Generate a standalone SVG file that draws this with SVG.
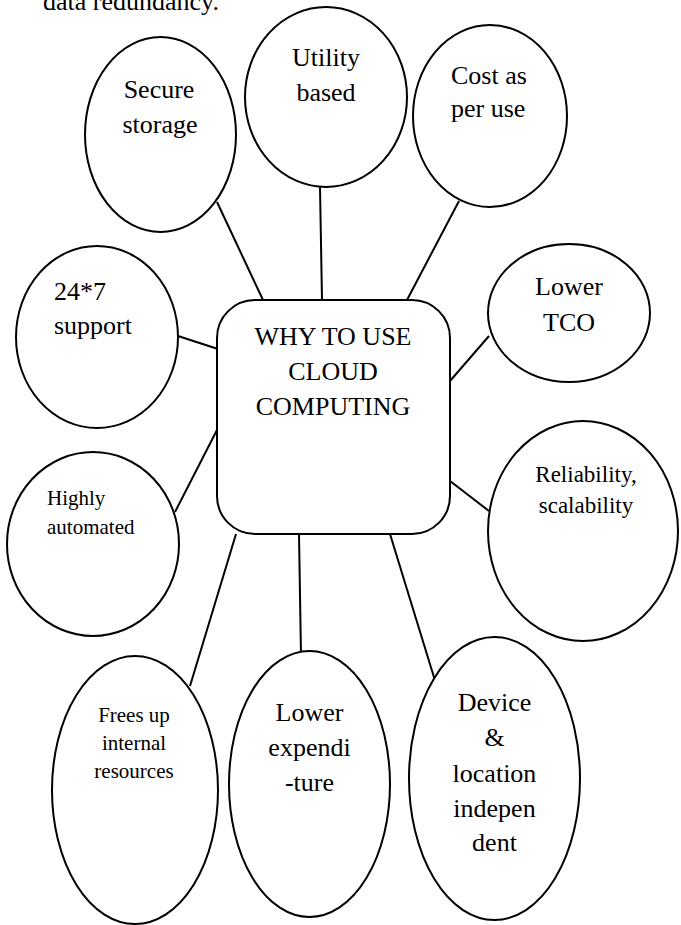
<svg xmlns="http://www.w3.org/2000/svg" width="681" height="925" viewBox="0 0 681 925">
<style>
.n{fill:#fff;stroke:#000;stroke-width:2}
.c line{stroke:#000;stroke-width:2}
text{font-family:"Liberation Serif","Times New Roman",serif;fill:#000}
.b{font-size:26px}
.s{font-size:21px}
.m{text-anchor:middle}
</style>
<rect width="681" height="925" fill="#fff"/>
<text class="b" x="43" y="10">data redundancy.</text>
<g class="c" id="connectors">
<line x1="217" y1="202" x2="263" y2="300"/>
<line x1="320" y1="187" x2="322" y2="300"/>
<line x1="459" y1="201" x2="407" y2="300"/>
<line x1="178" y1="336" x2="218" y2="349"/>
<line x1="175" y1="512" x2="218" y2="428"/>
<line x1="450" y1="381" x2="489" y2="336"/>
<line x1="450" y1="481" x2="489" y2="511"/>
<line x1="236" y1="534" x2="190" y2="686"/>
<line x1="299" y1="534" x2="301" y2="656"/>
<line x1="390" y1="534" x2="437" y2="687"/>
</g>
<g id="center">
<rect class="n" x="217" y="300" width="233" height="234" rx="38"/>
<text class="b m" x="333" y="345">WHY TO USE</text>
<text class="b m" x="333" y="380">CLOUD</text>
<text class="b m" x="333" y="415">COMPUTING</text>
</g>
<g id="secure">
<ellipse class="n" cx="160.5" cy="134.5" rx="75.5" ry="97.5"/>
<text class="b m" x="159" y="98">Secure</text>
<text class="b m" x="160" y="133">storage</text>
</g>
<g id="utility">
<ellipse class="n" cx="326" cy="97" rx="81" ry="90"/>
<text class="b m" x="326" y="66">Utility</text>
<text class="b m" x="326" y="101">based</text>
</g>
<g id="cost">
<ellipse class="n" cx="490" cy="116" rx="77" ry="91"/>
<text class="b" x="451" y="84">Cost as</text>
<text class="b" x="451" y="117">per use</text>
</g>
<g id="support">
<ellipse class="n" cx="97" cy="337" rx="81" ry="91"/>
<text class="b" x="54" y="300">24*7</text>
<text class="b" x="54" y="334">support</text>
</g>
<g id="automated">
<ellipse class="n" cx="93" cy="544" rx="86" ry="92"/>
<text class="s" x="47" y="505">Highly</text>
<text class="s" x="47" y="534">automated</text>
</g>
<g id="tco">
<ellipse class="n" cx="569" cy="313" rx="81" ry="69"/>
<text class="b m" x="569" y="295">Lower</text>
<text class="b m" x="569" y="331">TCO</text>
</g>
<g id="reliability">
<ellipse class="n" cx="583" cy="531" rx="95" ry="110"/>
<text class="m" style="font-size:23px" x="586" y="482">Reliability,</text>
<text class="m" style="font-size:23px" x="586" y="513">scalability</text>
</g>
<g id="frees">
<ellipse class="n" cx="135" cy="790" rx="83" ry="134"/>
<text class="s m" x="134" y="722">Frees up</text>
<text class="s m" x="134" y="750">internal</text>
<text class="s m" x="134" y="778">resources</text>
</g>
<g id="expenditure">
<ellipse class="n" cx="309.5" cy="784" rx="80.5" ry="133"/>
<text class="b m" x="309.5" y="721">Lower</text>
<text class="b m" x="309.5" y="756">expendi</text>
<text class="b m" x="309.5" y="791">-ture</text>
</g>
<g id="device">
<ellipse class="n" cx="494.5" cy="778.5" rx="85.5" ry="141.5"/>
<text class="b m" x="494.5" y="711">Device</text>
<text class="b m" x="494.5" y="746">&amp;</text>
<text class="b m" x="494.5" y="782">location</text>
<text class="b m" x="494.5" y="817">indepen</text>
<text class="b m" x="494.5" y="851">dent</text>
</g>
</svg>
